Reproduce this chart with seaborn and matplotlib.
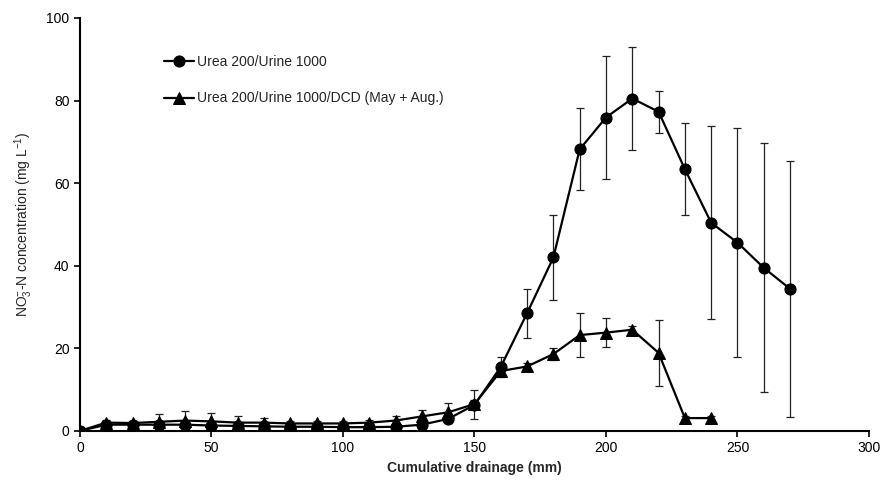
import matplotlib
matplotlib.use("Agg")
import matplotlib.pyplot as plt
import seaborn as sns
import pandas as pd
import numpy as np

# Data
x_urea = [0, 10, 20, 30, 40, 50, 60, 70, 80, 90, 100, 110, 120, 130, 140, 150,
          160, 170, 180, 190, 200, 210, 220, 230, 240, 250, 260, 270]
y_urea = [0, 1.5, 1.5, 1.5, 1.5, 1.3, 1.2, 1.1, 1.0, 1.0, 0.9, 0.9, 1.0, 1.5, 2.9, 6.3,
          15.5, 28.5, 42.0, 68.2, 75.9, 80.5, 77.3, 63.4, 50.4, 45.6, 39.5, 34.4]
e_urea = [0, 0.5, 0.4, 0.5, 0.5, 0.4, 0.4, 0.3, 0.3, 0.3, 0.3, 0.3, 0.4, 0.5, 0.8, 3.5,
          2.5, 5.9, 10.2, 9.9, 14.9, 12.5, 5.1, 11.2, 23.4, 27.7, 30.2, 31.0]

x_dcd = [0, 10, 20, 30, 40, 50, 60, 70, 80, 90, 100, 110, 120, 130, 140, 150,
         160, 170, 180, 190, 200, 210, 220, 230, 240]
y_dcd = [0, 2.0, 1.9, 2.2, 2.5, 2.3, 2.0, 2.0, 1.8, 1.8, 1.8, 2.0, 2.5, 3.5, 4.5, 6.5,
         14.5, 15.6, 18.6, 23.2, 23.8, 24.5, 18.9, 3.1, 3.1]
e_dcd = [0, 0.6, 0.6, 1.8, 2.3, 2.0, 1.5, 1.0, 0.6, 0.6, 0.6, 0.6, 1.0, 1.5, 2.2, 1.0,
         1.0, 0.8, 1.5, 5.4, 3.6, 0.8, 8.0, 0.5, 0.5]

label_urea = "Urea 200/Urine 1000"
label_dcd = "Urea 200/Urine 1000/DCD (May + Aug.)"

df = pd.concat([
    pd.DataFrame({"x": x_urea, "y": y_urea, "err": e_urea, "series": label_urea}),
    pd.DataFrame({"x": x_dcd, "y": y_dcd, "err": e_dcd, "series": label_dcd}),
], ignore_index=True)

sns.set_style("ticks")
plt.rcParams["font.family"] = ["Liberation Sans", "DejaVu Sans"]
plt.rcParams["mathtext.default"] = "regular"

fig = plt.figure(figsize=(8.84, 4.93), dpi=100)
ax = fig.add_axes([0.0905, 0.126, 0.8925, 0.8375])

for lab in [label_urea, label_dcd]:
    d = df[df.series == lab]
    ax.errorbar(d.x, d.y, yerr=d.err, fmt="none", ecolor="#222222",
                elinewidth=0.9, capsize=3, capthick=0.9, zorder=2)

sns.lineplot(data=df, x="x", y="y", style="series", markers=["o", "^"],
             dashes=False, color="black", markersize=8, linewidth=1.6,
             markeredgecolor="black", ax=ax, zorder=3, legend=True)

ax.set_xlim(0, 300)
ax.set_ylim(0, 100)
ax.set_xticks(np.arange(0, 301, 50))
ax.set_yticks(np.arange(0, 101, 20))
ax.tick_params(axis="both", labelsize=10, length=4, width=1.2, direction="out", colors="black")
for s in ["left", "bottom"]:
    ax.spines[s].set_linewidth(1.5)
    ax.spines[s].set_color("black")
sns.despine(ax=ax)

ax.set_xlabel("Cumulative drainage (mm)", fontsize=10, fontweight="bold", labelpad=4)
ax.set_ylabel(r"NO$_3^{-}$-N concentration (mg L$^{-1}$)", fontsize=10, labelpad=8)

handles, labels = ax.get_legend_handles_labels()
ax.legend(handles, labels, loc="upper left", bbox_to_anchor=(0.09, 0.94),
          frameon=False, fontsize=10, labelspacing=1.6, handlelength=2.2,
          handletextpad=0.2)

fig.savefig("out.png", dpi=100)
